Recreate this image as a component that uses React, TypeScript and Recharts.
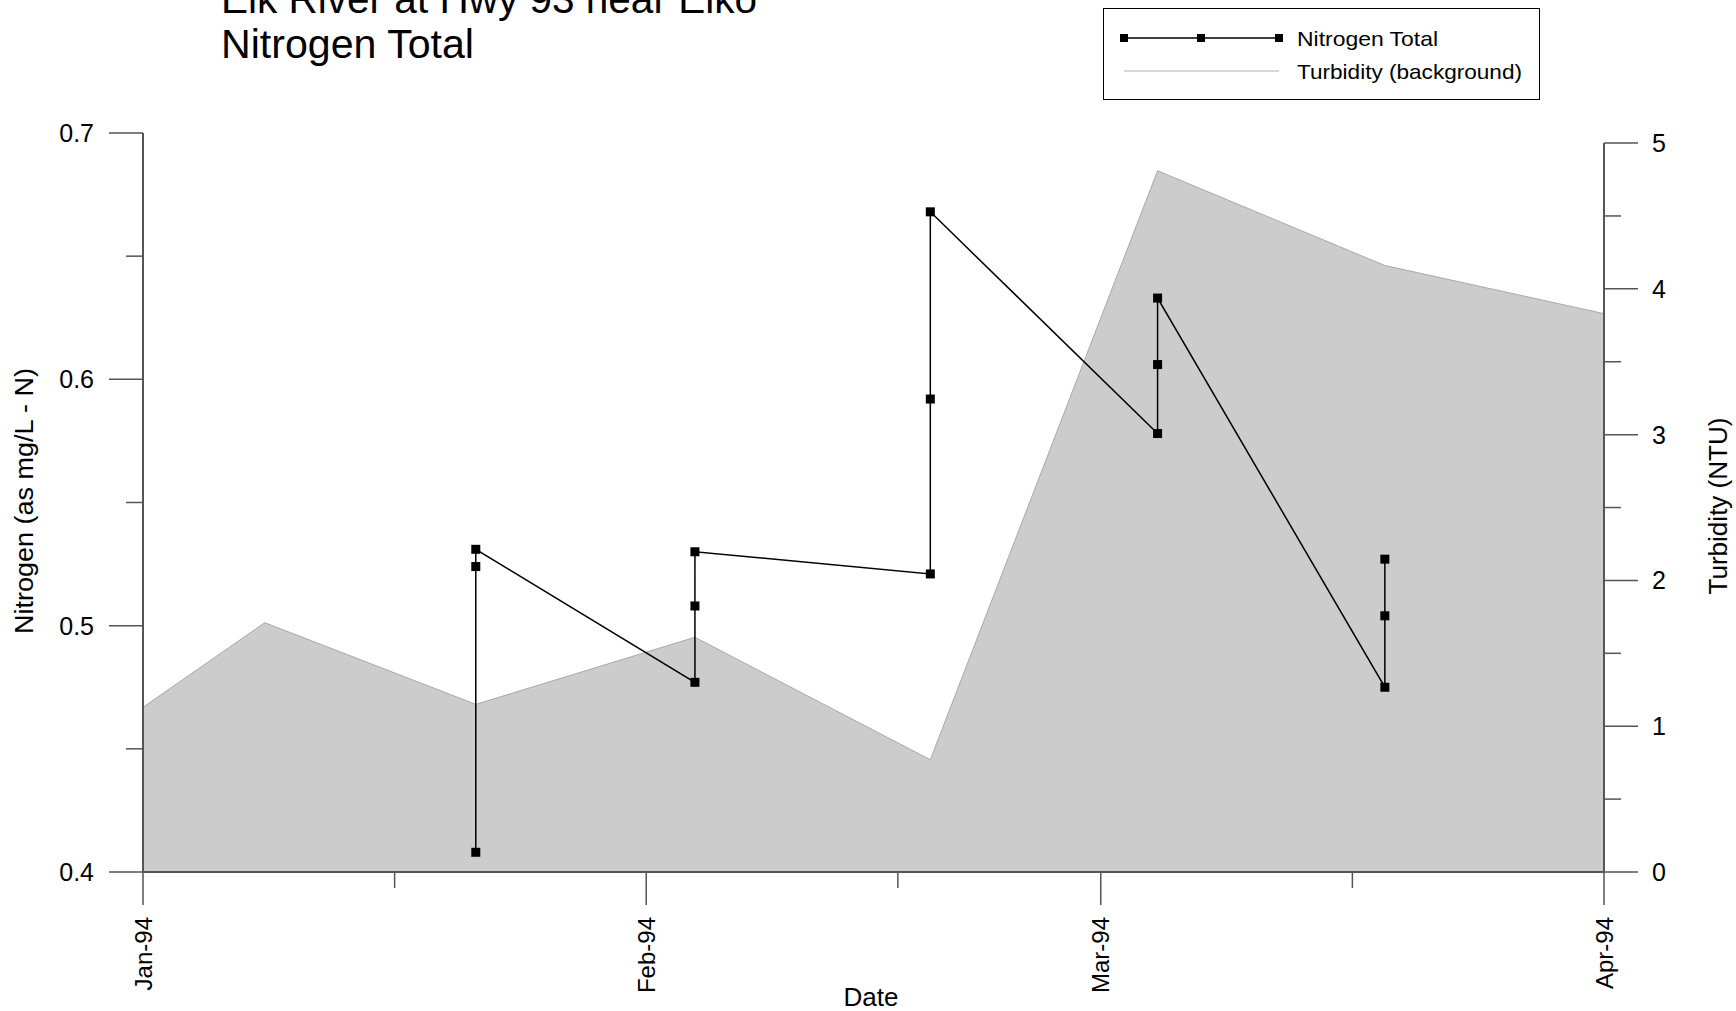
import React from 'react';
import { ComposedChart, Area, Line, XAxis, YAxis, ReferenceLine } from 'recharts';

const FONT = '"Liberation Sans", Arial, Helvetica, sans-serif';

// Days since 1 Jan 1994
const turbidityDays = [0, 7.5, 20.5, 34, 48.5, 62.5, 76.5, 90];
const turbidityValues = [1.13, 1.71, 1.15, 1.61, 0.77, 4.81, 4.16, 3.83];

const nitrogenDays = [20.5, 20.5, 20.5, 34, 34, 34, 48.5, 48.5, 48.5, 62.5, 62.5, 62.5, 76.5, 76.5, 76.5];
const nitrogenValues = [0.408, 0.524, 0.531, 0.477, 0.508, 0.530, 0.521, 0.592, 0.668, 0.578, 0.606, 0.633, 0.475, 0.504, 0.527];

const monthTickDays = [0, 31, 59, 90];
const monthTickLabels = ['Jan-94', 'Feb-94', 'Mar-94', 'Apr-94'];
const minorXTicks = [15.5, 46.5, 74.5];

const leftTicks = [0.4, 0.45, 0.5, 0.55, 0.6, 0.65, 0.7];
const leftTickLabels = ['0.4', '0.5', '0.6', '0.7'];
const rightTicks = [0, 0.5, 1, 1.5, 2, 2.5, 3, 3.5, 4, 4.5, 5];
const rightTickLabels = ['0', '1', '2', '3', '4', '5'];

const titleLines = ['Elk River at Hwy 93 near Elko', 'Nitrogen Total'];
const legendLabels = ['Nitrogen Total', 'Turbidity (background)'];

const turbidityData = turbidityDays.map((d, i) => ({ day: d, turbidity: turbidityValues[i] }));
const nitrogenData = nitrogenDays.map((d, i) => ({ day: d, nitrogen: nitrogenValues[i] }));
const xTicks = [...monthTickDays, ...minorXTicks].sort((a, b) => a - b);

const AXIS = '#555';

const LeftTick = (props: any) => {
  const { x, y, payload } = props;
  const v = payload.value;
  const label = leftTickLabels.find((l) => Math.abs(parseFloat(l) - v) < 1e-6);
  const len = label ? 34 : 17;
  return (
    <g>
      <line x1={x - len} x2={x} y1={y} y2={y} stroke={AXIS} strokeWidth={1.5} />
      {label && (
        <text x={x - 49} y={y} textAnchor="end" dominantBaseline="central" fontSize={25} fontFamily={FONT} fill="#000">
          {label}
        </text>
      )}
    </g>
  );
};

const RightTick = (props: any) => {
  const { x, y, payload } = props;
  const v = payload.value;
  const label = rightTickLabels.find((l) => Math.abs(parseFloat(l) - v) < 1e-6);
  const len = label ? 34 : 17;
  return (
    <g>
      <line x1={x} x2={x + len} y1={y} y2={y} stroke={AXIS} strokeWidth={1.5} />
      {label && (
        <text x={x + 48} y={y} textAnchor="start" dominantBaseline="central" fontSize={25} fontFamily={FONT} fill="#000">
          {label}
        </text>
      )}
    </g>
  );
};

const BottomTick = (props: any) => {
  const { x, y, payload } = props;
  const v = payload.value;
  const idx = monthTickDays.findIndex((d) => Math.abs(d - v) < 1e-6);
  const len = idx >= 0 ? 33 : 16;
  return (
    <g>
      <line x1={x} x2={x} y1={y} y2={y + len} stroke={AXIS} strokeWidth={1.5} />
      {idx >= 0 && (
        <text
          x={x}
          y={y + 45}
          transform={`rotate(-90, ${x}, ${y + 45})`}
          textAnchor="end"
          dominantBaseline="central"
          fontSize={24}
          fontFamily={FONT}
          fill="#000"
        >
          {monthTickLabels[idx]}
        </text>
      )}
    </g>
  );
};

const SquareDot = (props: any) => {
  const { cx, cy, index } = props;
  if (cx == null || cy == null) return <g key={`d${index}`} />;
  return <rect key={`d${index}`} x={cx - 4.5} y={cy - 4.5} width={9} height={9} fill="#000" />;
};

export default function App() {
  return (
    <div style={{ position: 'absolute', left: 0, top: 0, width: 1736, height: 1011, background: '#fff', overflow: 'hidden' }}>
      <ComposedChart width={1736} height={1011} margin={{ top: 133, right: 0, bottom: 0, left: 0 }}>
        <XAxis
          dataKey="day"
          type="number"
          domain={[0, 90]}
          ticks={xTicks}
          interval={0}
          height={139}
          tickSize={0}
          tickMargin={0}
          tickLine={false}
          axisLine={{ stroke: AXIS, strokeWidth: 2 }}
          tick={<BottomTick />}
          allowDataOverflow
        />
        <YAxis
          yAxisId="left"
          orientation="left"
          type="number"
          domain={[0.4, 0.7]}
          ticks={leftTicks}
          interval={0}
          width={143}
          tickSize={0}
          tickMargin={0}
          tickLine={false}
          axisLine={{ stroke: AXIS, strokeWidth: 2 }}
          tick={<LeftTick />}
          allowDataOverflow
        />
        <YAxis
          yAxisId="right"
          orientation="right"
          type="number"
          domain={[0, 5.069]}
          ticks={rightTicks}
          interval={0}
          width={132}
          tickSize={0}
          tickMargin={0}
          tickLine={false}
          axisLine={false}
          tick={<RightTick />}
          allowDataOverflow
        />
        <Area
          yAxisId="right"
          data={turbidityData}
          dataKey="turbidity"
          type="linear"
          stroke="#a8a8a8"
          strokeWidth={1}
          fill="#cccccc"
          fillOpacity={1}
          isAnimationActive={false}
          dot={false}
          activeDot={false}
        />
        <ReferenceLine
          yAxisId="right"
          segment={[{ x: 90, y: 0 }, { x: 90, y: 5 }]}
          stroke={AXIS}
          strokeWidth={2}
        />
        <Line
          yAxisId="left"
          data={nitrogenData}
          dataKey="nitrogen"
          type="linear"
          stroke="#000"
          strokeWidth={1.5}
          dot={<SquareDot />}
          activeDot={false}
          isAnimationActive={false}
        />
      </ComposedChart>
      <svg width={1736} height={1011} style={{ position: 'absolute', left: 0, top: 0, pointerEvents: 'none' }}>
        <text x={221} y={13} fontSize={40} fontFamily={FONT} textLength={536} lengthAdjust="spacingAndGlyphs" fill="#000">
          {titleLines[0]}
        </text>
        <text x={221} y={58} fontSize={40} fontFamily={FONT} textLength={253} lengthAdjust="spacingAndGlyphs" fill="#000">
          {titleLines[1]}
        </text>
        <g transform="translate(1103, 8)">
          <rect x={0.5} y={0.5} width={436} height={91} fill="#fff" stroke="#000" strokeWidth={1} />
          <line x1={21} x2={176} y1={30} y2={30} stroke="#000" strokeWidth={1.5} />
          <rect x={17} y={26} width={8} height={8} fill="#000" />
          <rect x={94} y={26} width={8} height={8} fill="#000" />
          <rect x={172} y={26} width={8} height={8} fill="#000" />
          <text x={194} y={30} dominantBaseline="central" fontSize={21} fontFamily={FONT} textLength={141} lengthAdjust="spacingAndGlyphs">
            {legendLabels[0]}
          </text>
          <line x1={21} x2={176} y1={63} y2={63} stroke="#b0b0b0" strokeWidth={1} />
          <text x={194} y={63} dominantBaseline="central" fontSize={21} fontFamily={FONT} textLength={225} lengthAdjust="spacingAndGlyphs">
            {legendLabels[1]}
          </text>
        </g>
        <text
          x={24}
          y={501}
          transform="rotate(-90, 24, 501)"
          textAnchor="middle"
          dominantBaseline="central"
          fontSize={25}
          fontFamily={FONT}
          textLength={266}
          lengthAdjust="spacingAndGlyphs"
          fill="#000"
        >
          Nitrogen (as mg/L - N)
        </text>
        <text
          x={1718}
          y={506}
          transform="rotate(-90, 1718, 506)"
          textAnchor="middle"
          dominantBaseline="central"
          fontSize={25}
          fontFamily={FONT}
          textLength={177}
          lengthAdjust="spacingAndGlyphs"
          fill="#000"
        >
          Turbidity  (NTU)
        </text>
        <text x={871} y={997} textAnchor="middle" dominantBaseline="central" fontSize={25} fontFamily={FONT} textLength={55} lengthAdjust="spacingAndGlyphs" fill="#000">
          Date
        </text>
      </svg>
    </div>
  );
}
